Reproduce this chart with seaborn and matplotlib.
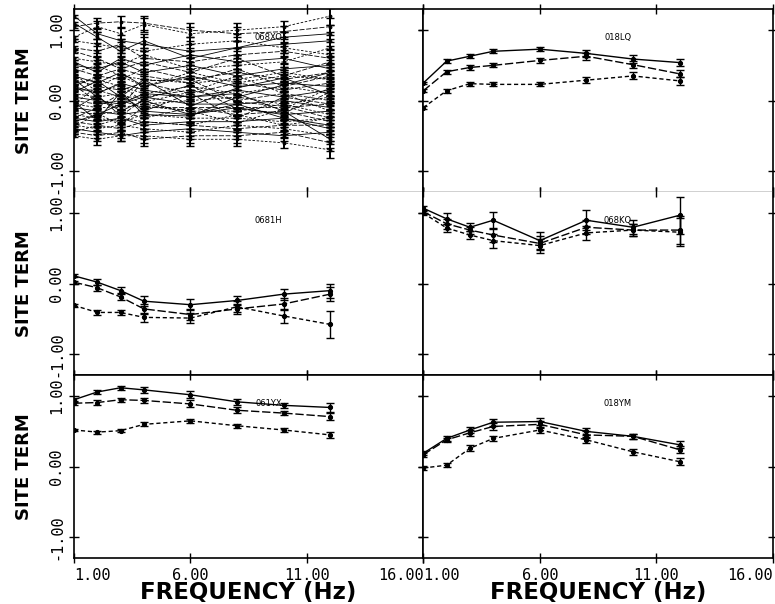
import pandas as pd
import matplotlib
matplotlib.use('Agg')
import matplotlib.pyplot as plt
import seaborn as sns

# frequencies (Hz) where site terms were estimated
freqs = [1, 2, 3, 4, 6, 8, 10, 12]

# panel station names (row by row)
stations = ['068XO', '018LQ', '0681H', '068KQ', '061YX', '018YM']

# all sites together (top-left panel)
all_sites = [
    [1.20, 0.95, 0.85, 0.80, 0.70, 0.75, 0.80, 0.85],
    [1.05, 1.10, 1.12, 1.10, 1.00, 0.95, 0.98, 1.05],
    [0.90, 1.05, 0.95, 1.08, 0.95, 1.00, 1.05, 1.20],
    [1.10, 0.90, 0.70, 0.85, 0.60, 0.75, 0.90, 0.95],
    [0.75, 0.70, 0.80, 0.60, 0.55, 0.65, 0.70, 0.60],
    [0.60, 0.55, 0.50, 0.65, 0.45, 0.50, 0.55, 0.75],
    [0.50, 0.45, 0.55, 0.40, 0.50, 0.35, 0.45, 0.50],
    [0.45, 0.35, 0.30, 0.45, 0.30, 0.40, 0.30, 0.40],
    [0.40, 0.50, 0.35, 0.30, 0.25, 0.30, 0.40, 0.30],
    [0.35, 0.25, 0.40, 0.20, 0.35, 0.20, 0.25, 0.20],
    [0.30, 0.20, 0.15, 0.25, 0.10, 0.25, 0.15, 0.25],
    [0.25, 0.30, 0.20, 0.10, 0.20, 0.10, 0.20, 0.10],
    [0.20, 0.10, 0.25, 0.15, 0.05, 0.15, 0.05, 0.15],
    [0.15, 0.15, 0.05, 0.05, 0.15, 0.00, 0.10, 0.00],
    [0.10, 0.05, 0.10, -0.05, 0.00, 0.05, -0.05, 0.05],
    [0.05, 0.00, -0.05, 0.05, -0.05, -0.05, 0.00, -0.10],
    [0.00, -0.05, 0.00, -0.10, -0.10, -0.10, -0.10, -0.05],
    [-0.05, -0.10, -0.10, -0.05, -0.15, -0.15, -0.05, -0.20],
    [-0.10, -0.15, -0.20, -0.15, -0.20, -0.10, -0.20, -0.15],
    [-0.15, -0.20, -0.15, -0.25, -0.10, -0.20, -0.15, -0.30],
    [-0.20, -0.25, -0.30, -0.20, -0.25, -0.25, -0.30, -0.25],
    [-0.25, -0.30, -0.25, -0.35, -0.30, -0.30, -0.25, -0.40],
    [-0.30, -0.35, -0.40, -0.30, -0.35, -0.40, -0.35, -0.35],
    [-0.35, -0.40, -0.35, -0.40, -0.45, -0.35, -0.40, -0.50],
    [-0.40, -0.45, -0.50, -0.45, -0.40, -0.45, -0.50, -0.45],
    [-0.45, -0.50, -0.45, -0.55, -0.50, -0.50, -0.45, -0.60],
    [-0.50, -0.55, -0.50, -0.50, -0.55, -0.55, -0.60, -0.70],
    [0.55, 0.40, 0.60, 0.50, 0.65, 0.55, 0.60, 0.45],
    [0.70, 0.60, 0.45, 0.55, 0.40, 0.60, 0.35, 0.55],
    [-0.05, 0.20, 0.35, 0.20, 0.40, 0.25, 0.35, 0.30],
    [0.30, 0.05, -0.15, 0.00, -0.20, -0.05, -0.25, -0.35],
    [-0.25, -0.10, 0.10, -0.15, 0.10, -0.25, 0.05, -0.05],
    [0.85, 0.80, 0.75, 0.70, 0.80, 0.85, 0.75, 0.65],
    [-0.30, -0.20, -0.05, 0.10, 0.05, 0.10, -0.15, -0.55],
    [0.20, 0.35, 0.45, 0.35, 0.25, 0.45, 0.20, 0.35],
    [-0.45, -0.35, -0.25, -0.30, -0.35, -0.20, -0.35, -0.25],
    [0.12, 0.28, 0.05, 0.30, -0.08, 0.18, 0.32, 0.08],
    [-0.12, 0.08, -0.22, 0.02, 0.22, -0.12, -0.18, 0.12],
    [0.38, 0.12, 0.22, -0.02, 0.12, 0.35, 0.10, -0.15],
    [-0.02, -0.28, 0.12, -0.20, -0.22, 0.05, 0.22, 0.40],
    [0.22, -0.02, -0.08, 0.28, 0.30, -0.02, -0.08, -0.25],
    [-0.38, -0.18, -0.35, -0.08, -0.15, -0.32, -0.12, 0.18],
]
all_sites_err = [0.02, 0.08, 0.08, 0.10, 0.10, 0.10, 0.08, 0.12]

# single stations, three estimates each
site_018LQ = [
    [0.25, 0.56, 0.63, 0.70, 0.73, 0.67, 0.59, 0.54],
    [0.14, 0.41, 0.47, 0.50, 0.57, 0.63, 0.51, 0.38],
    [-0.10, 0.14, 0.24, 0.23, 0.23, 0.29, 0.35, 0.28],
]
err_018LQ = [
    [0.02, 0.03, 0.03, 0.03, 0.03, 0.05, 0.06, 0.05],
    [0.02, 0.03, 0.03, 0.03, 0.03, 0.05, 0.05, 0.05],
    [0.02, 0.03, 0.03, 0.03, 0.03, 0.04, 0.05, 0.06],
]
site_0681H = [
    [0.11, 0.02, -0.10, -0.25, -0.30, -0.24, -0.15, -0.10],
    [0.02, -0.06, -0.19, -0.36, -0.44, -0.36, -0.29, -0.15],
    [-0.31, -0.41, -0.41, -0.48, -0.49, -0.33, -0.46, -0.58],
]
err_0681H = [
    [0.02, 0.04, 0.05, 0.07, 0.08, 0.07, 0.08, 0.10],
    [0.02, 0.04, 0.05, 0.07, 0.08, 0.07, 0.09, 0.10],
    [0.02, 0.03, 0.04, 0.06, 0.07, 0.08, 0.10, 0.19],
]
site_068KQ = [
    [1.07, 0.92, 0.80, 0.90, 0.61, 0.90, 0.80, 0.97],
    [1.02, 0.85, 0.76, 0.69, 0.57, 0.80, 0.76, 0.76],
    [1.00, 0.79, 0.69, 0.61, 0.54, 0.72, 0.76, 0.73],
]
err_068KQ = [
    [0.03, 0.08, 0.06, 0.12, 0.12, 0.14, 0.10, 0.26],
    [0.03, 0.07, 0.05, 0.10, 0.10, 0.10, 0.08, 0.20],
    [0.03, 0.06, 0.05, 0.10, 0.10, 0.10, 0.08, 0.20],
]
site_061YX = [
    [0.95, 1.06, 1.12, 1.09, 1.02, 0.92, 0.87, 0.84],
    [0.90, 0.91, 0.95, 0.94, 0.89, 0.80, 0.76, 0.71],
    [0.52, 0.49, 0.51, 0.60, 0.65, 0.58, 0.52, 0.45],
]
err_061YX = [
    [0.02, 0.03, 0.03, 0.04, 0.05, 0.04, 0.04, 0.06],
    [0.02, 0.03, 0.03, 0.04, 0.05, 0.04, 0.03, 0.05],
    [0.02, 0.02, 0.02, 0.03, 0.03, 0.03, 0.03, 0.04],
]
site_018YM = [
    [0.19, 0.40, 0.52, 0.63, 0.64, 0.50, 0.43, 0.31],
    [0.17, 0.38, 0.48, 0.57, 0.60, 0.45, 0.43, 0.24],
    [-0.02, 0.02, 0.26, 0.40, 0.52, 0.38, 0.21, 0.07],
]
err_018YM = [
    [0.03, 0.03, 0.04, 0.05, 0.05, 0.05, 0.04, 0.05],
    [0.03, 0.03, 0.04, 0.05, 0.05, 0.05, 0.04, 0.05],
    [0.03, 0.03, 0.04, 0.04, 0.04, 0.04, 0.04, 0.05],
]

x_ticks = [1, 6, 11, 16]
y_ticks = [-1, 0, 1]

sns.set_style('ticks')
plt.rcParams['font.family'] = ['DejaVu Sans']
plt.rcParams['text.color'] = 'black'
plt.rcParams['axes.labelcolor'] = 'black'
plt.rcParams['xtick.color'] = 'black'
plt.rcParams['ytick.color'] = 'black'

dash_patterns = ['', (6, 2), (3, 2)]


def to_frame(curves, errs):
    rows = []
    for k, vals in enumerate(curves):
        for f, v, e in zip(freqs, vals, errs[k]):
            rows.append({'freq': f, 'term': v, 'err': e, 'curve': k})
    return pd.DataFrame(rows)


def draw_panel(ax, curves, errs, lw, ms, elw):
    df = to_frame(curves, errs)
    dashes = [dash_patterns[k % 3] for k in range(len(curves))]
    sns.lineplot(data=df, x='freq', y='term', style='curve', units='curve',
                 estimator=None, dashes=dashes, color='black', lw=lw,
                 marker='o', markersize=ms, markeredgecolor='black',
                 legend=False, ax=ax)
    ax.errorbar(df['freq'], df['term'], yerr=df['err'], fmt='none',
                ecolor='black', elinewidth=elw, capsize=3, capthick=1.0)


fig = plt.figure(figsize=(7.75, 6.04), dpi=100)
axes = fig.subplots(3, 2, sharex=True, sharey=True,
                    gridspec_kw={'hspace': 0, 'wspace': 0})
fig.subplots_adjust(left=0.0955, right=0.997, top=0.985, bottom=0.076)

panel_data = [
    (all_sites, [all_sites_err] * len(all_sites), 0.6, 2, 1.4),
    (site_018LQ, err_018LQ, 1.0, 3, 1.0),
    (site_0681H, err_0681H, 1.0, 3, 1.0),
    (site_068KQ, err_068KQ, 1.0, 3, 1.0),
    (site_061YX, err_061YX, 1.0, 3, 1.0),
    (site_018YM, err_018YM, 1.0, 3, 1.0),
]

for i, ax in enumerate(axes.flat):
    curves, errs, lw, ms, elw = panel_data[i]
    draw_panel(ax, curves, errs, lw, ms, elw)
    ax.text(9.35, 0.9, stations[i], fontsize=6, ha='center', va='center')
    ax.set_xlim(1, 16)
    ax.set_ylim(-1.3, 1.3)
    ax.set_xticks(x_ticks)
    ax.set_yticks(y_ticks)
    ax.tick_params(direction='inout', length=7, width=1, top=True, right=True,
                   labelsize=11)
    for side in ['left', 'right', 'top', 'bottom']:
        ax.spines[side].set_linewidth(1.2)
        ax.spines[side].set_color('black')
    ax.set_xlabel('')
    ax.set_ylabel('')

# the boundary between first and second row is a faint line
for ax in axes[0]:
    ax.spines['bottom'].set_color('#c8c8c8')
for ax in axes[1]:
    ax.spines['top'].set_visible(False)

for ax in axes[:, 0]:
    ax.set_ylabel('SITE TERM', fontsize=13, fontweight='bold', labelpad=12)
    ax.set_yticklabels(['%.2f' % v for v in y_ticks], rotation=90, va='center',
                       family='DejaVu Sans Mono', fontsize=11)

for ax in axes[2]:
    ax.set_xlabel('FREQUENCY (Hz)', fontsize=16.5, fontweight='bold',
                  labelpad=-1)
    labels = ax.set_xticklabels(['%.2f' % v for v in x_ticks],
                                family='DejaVu Sans Mono', fontsize=11)
    labels[0].set_ha('left')
    labels[-1].set_ha('right')

fig.savefig('out.png', dpi=100)
